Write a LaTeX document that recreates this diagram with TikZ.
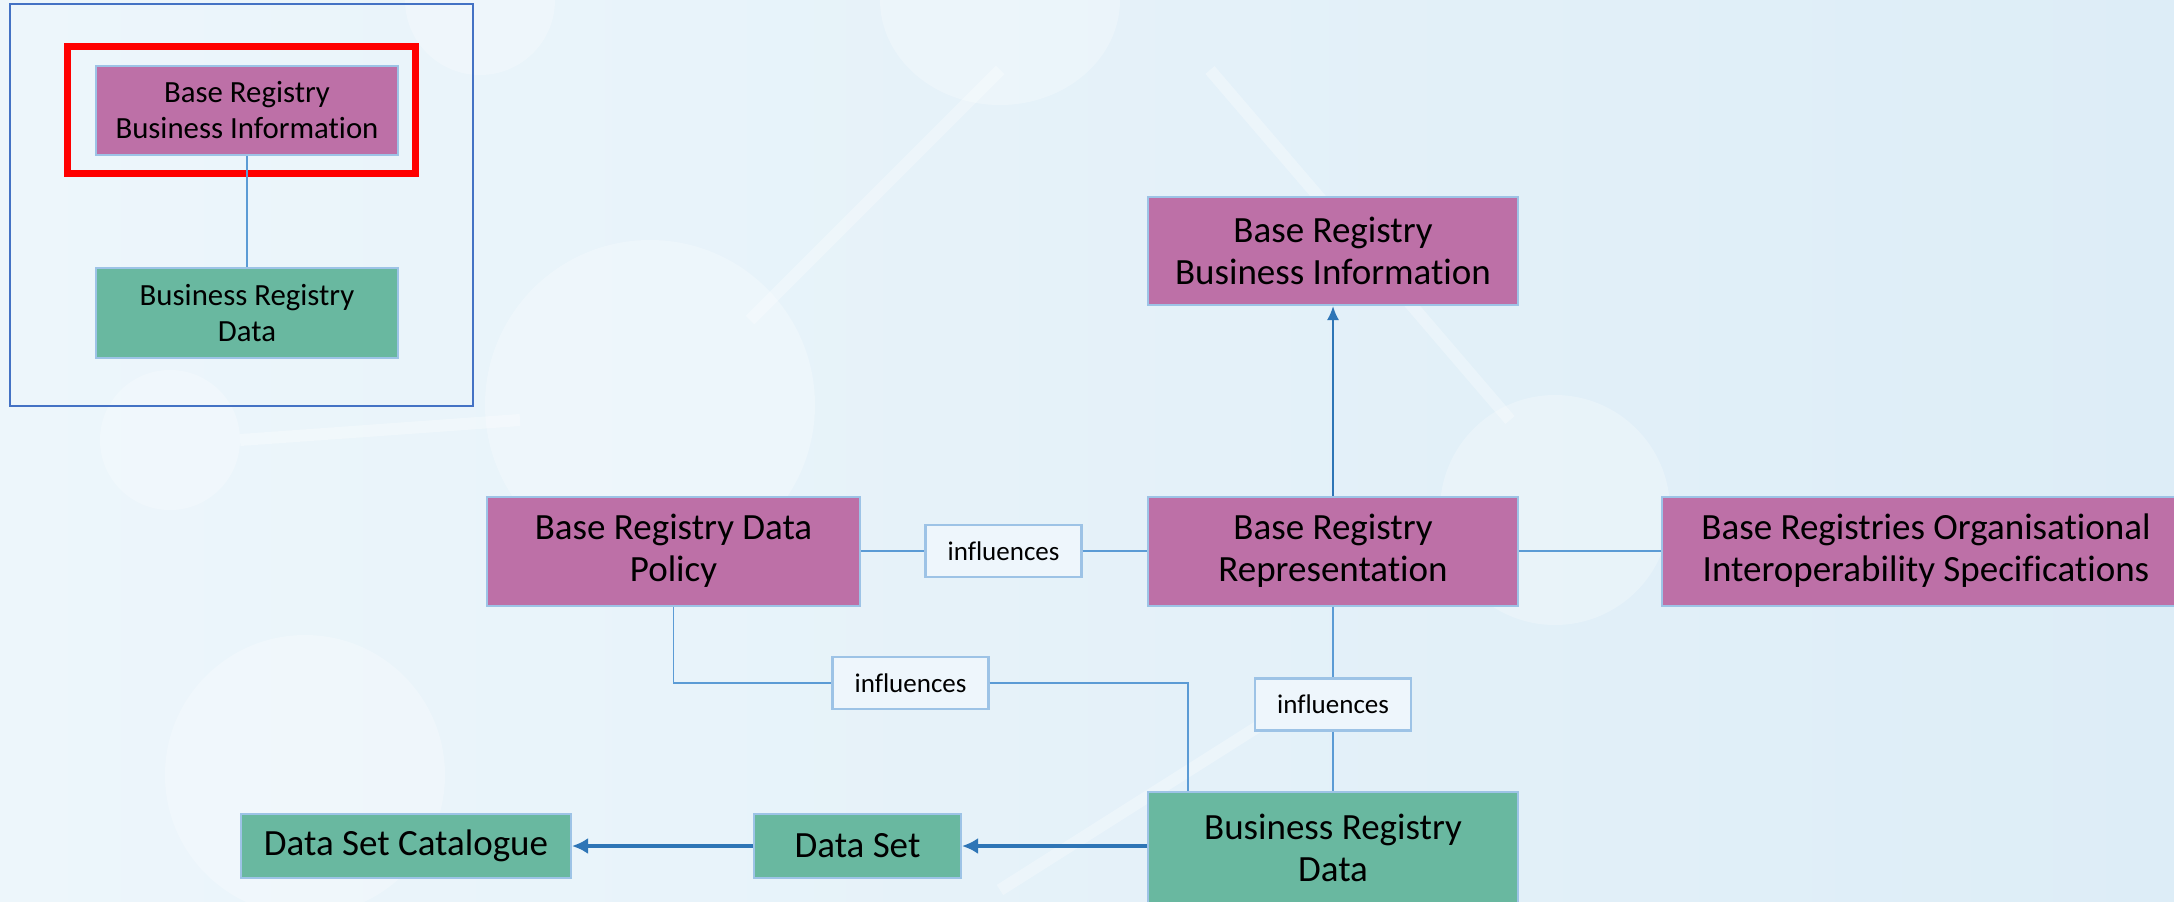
\documentclass[tikz,border=0pt]{standalone}
\usepackage{fontspec}
\setmainfont{Carlito}[Ligatures={NoCommon,NoRequired,NoContextual}]
\usetikzlibrary{arrows.meta,positioning}
\definecolor{bgA}{HTML}{EDF6FB}
\definecolor{bgB}{HTML}{DDEDF7}
\definecolor{purp}{HTML}{BD70A7}
\definecolor{grn}{HTML}{69B8A0}
\definecolor{bord}{HTML}{9DC3E6}
\definecolor{conn}{HTML}{5B9BD5}
\definecolor{arr}{HTML}{2E75B6}
\definecolor{frame}{HTML}{4472C4}
\definecolor{inff}{HTML}{EEF6FC}
\tikzset{
  box/.style={draw=bord, line width=1pt, align=center, inner sep=0pt, text=black},
  pbox/.style={box, fill=purp},
  gbox/.style={box, fill=grn},
  big/.style={font=\fontsize{18.5}{21}\selectfont},
  small/.style={font=\fontsize{15.4}{18}\selectfont},
  infl/.style={box, fill=inff, line width=1.2pt, font=\fontsize{13.5}{15}\selectfont, minimum width=78pt, minimum height=26pt},
  line/.style={draw=conn, line width=0.8pt},
  arrline/.style={draw=arr, line width=1pt, -{Latex[length=7pt,width=6pt]}},
  thickarr/.style={draw=arr, line width=1.6pt, -{Latex[length=8pt,width=8pt]}},
  deco/.style={fill=white, opacity=0.25},
  decol/.style={draw=white, opacity=0.3, line width=6pt}
}
\begin{document}
\begin{tikzpicture}[x=0.5pt,y=-0.5pt]
\clip (0,0) rectangle (2174,901);
\shade[left color=bgA, right color=bgB] (0,0) rectangle (2174,901);
% faint background decoration
\fill[deco] (1000,0) ellipse (120 and 105);
\fill[deco] (650,405) circle (165);
\fill[deco] (1555,510) circle (115);
\fill[deco] (305,775) circle (140);
\fill[deco] (170,440) circle (70);
\fill[deco] (480,0) circle (75);
\draw[decol] (1210,70) -- (1510,420);
\draw[decol] (750,320) -- (1000,70);
\draw[decol] (240,440) -- (520,420);
\draw[decol] (1000,890) -- (1300,700);
% inset
\draw[frame, line width=1.2pt] (9.7,4.2) rectangle (473,406);
\draw[red, line width=3.5pt] (67,46) rectangle (415,173);
\node[pbox, small, minimum width=151pt, minimum height=44.5pt] (sbi) at (247,110) {Base Registry\\Business Information};
\node[gbox, small, minimum width=151pt, minimum height=45pt] (sbd) at (247,313) {Business Registry\\Data};
\draw[line] (sbi.south) -- (sbd.north);
% main diagram
\node[pbox, big, minimum width=185pt, minimum height=54pt] (bi) at (1333,251) {Base Registry\\Business Information};
\node[pbox, big, minimum width=185pt, minimum height=54.5pt] (rep) at (1333,551) {Base Registry\\Representation};
\node[pbox, big, minimum width=264pt, minimum height=54.5pt] (org) at (1926,551) {Base Registries Organisational\\Interoperability Specifications};
\node[pbox, big, minimum width=186.5pt, minimum height=54.5pt] (pol) at (673.5,551) {Base Registry Data\\Policy};
\node[gbox, big, minimum width=185pt, minimum height=56pt] (brd) at (1333,848) {Business Registry\\Data};
\node[gbox, big, minimum width=103.5pt, minimum height=32pt] (ds) at (857.5,846) {Data Set};
\node[gbox, big, minimum width=165pt, minimum height=32pt] (dsc) at (406,846) {Data Set Catalogue};
\node[infl] (i1) at (1003.5,551) {influences};
\node[infl] (i2) at (910.5,683) {influences};
\node[infl] (i3) at (1333,704.5) {influences};
\coordinate (k) at (1188,0);
% connectors
\draw[line] (pol.east) -- (i1.west);
\draw[line] (i1.east) -- (rep.west);
\draw[line] (rep.east) -- (org.west);
\draw[arrline] (rep.north) -- (bi.south);
\draw[line] (rep.south) -- (i3.north);
\draw[line] (i3.south) -- (brd.north);
\draw[line] (pol.south) |- (i2.west);
\draw[line] (i2.east) -| (k |- brd.north);
\draw[thickarr] (brd.west |- ds.east) -- (ds.east);
\draw[thickarr] (ds.west) -- (dsc.east);
\end{tikzpicture}
\end{document}
